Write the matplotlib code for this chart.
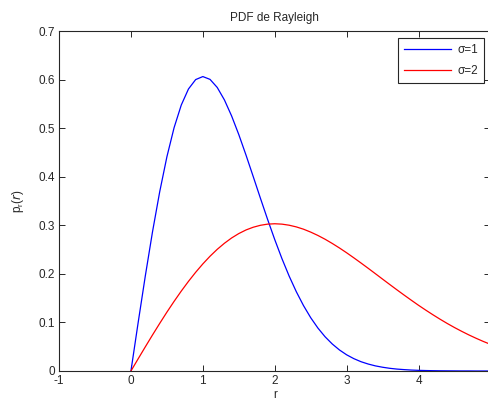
import matplotlib
matplotlib.use("Agg")
import matplotlib.pyplot as plt

# sample points r (step 0.1 from 0 to 5)
r = [i / 10 for i in range(51)]

# sigma = 1 curve
pdf_s1 = [0.0000, 0.0995, 0.1960, 0.2868, 0.3692, 0.4412, 0.5012, 0.5479, 0.5809, 0.6003,
          0.6065, 0.6007, 0.5841, 0.5584, 0.5254, 0.4870, 0.4449, 0.4008, 0.3562, 0.3125,
          0.2707, 0.2315, 0.1956, 0.1633, 0.1347, 0.1098, 0.0885, 0.0705, 0.0556, 0.0433,
          0.0333, 0.0254, 0.0191, 0.0143, 0.0105, 0.0077, 0.0055, 0.0039, 0.0028, 0.0019,
          0.0013, 0.0009, 0.0006, 0.0004, 0.0003, 0.0002, 0.0001, 0.0001, 0.0000, 0.0000,
          0.0000]

# sigma = 2 curve
pdf_s2 = [0.0000, 0.0250, 0.0498, 0.0742, 0.0980, 0.1212, 0.1434, 0.1646, 0.1846, 0.2033,
          0.2206, 0.2364, 0.2506, 0.2631, 0.2740, 0.2831, 0.2905, 0.2961, 0.3001, 0.3025,
          0.3033, 0.3025, 0.3003, 0.2968, 0.2921, 0.2861, 0.2792, 0.2714, 0.2627, 0.2534,
          0.2435, 0.2331, 0.2224, 0.2115, 0.2004, 0.1892, 0.1781, 0.1671, 0.1563, 0.1457,
          0.1353, 0.1254, 0.1158, 0.1066, 0.0978, 0.0895, 0.0817, 0.0743, 0.0674, 0.0609,
          0.0549]

labels = ["σ=1", "σ=2"]
xticks = [-1, 0, 1, 2, 3, 4, 5]
yticks = [0, 0.1, 0.2, 0.3, 0.4, 0.5, 0.6, 0.7]

plt.rcParams["font.family"] = ["Liberation Sans", "DejaVu Sans"]
plt.rcParams["font.size"] = 8.5
txt = "#262626"

fig = plt.figure(figsize=(4.88, 4.05), dpi=100)
ax = fig.add_axes([0.121, 0.084, 0.884, 0.839])

ax.plot(r, pdf_s1, color="#0000ff", lw=0.9, label=labels[0])
ax.plot(r, pdf_s2, color="#ff0000", lw=0.9, label=labels[1])

ax.set_xlim(-1, 5)
ax.set_ylim(0, 0.7)
ax.set_xticks(xticks)
ax.set_yticks(yticks)
ax.set_xticklabels([str(v) for v in xticks])
ax.set_yticklabels(["0"] + [f"{v:.1f}" for v in yticks[1:]])
ax.tick_params(direction="in", length=4, width=0.7, colors=txt, top=True, right=True, pad=3)

for sp in ax.spines.values():
    sp.set_linewidth(0.8)
    sp.set_color("#262626")

ax.set_title("PDF de Rayleigh", fontsize=8.5, color=txt, pad=7)
ax.set_xlabel("r", color=txt, labelpad=1)
ax.set_ylabel("p$_\\mathregular{r}$($\\it{r}$)", color=txt, labelpad=9)

leg = ax.legend(loc="upper right", bbox_to_anchor=(0.993, 0.99), fancybox=False,
                framealpha=1, edgecolor="#262626", handlelength=4.0,
                borderaxespad=0.3, labelspacing=0.75, handletextpad=0.5,
                borderpad=0.5)
leg.get_frame().set_linewidth(0.8)
for t in leg.get_texts():
    t.set_color(txt)

fig.savefig("out.png", dpi=100, facecolor="white")
